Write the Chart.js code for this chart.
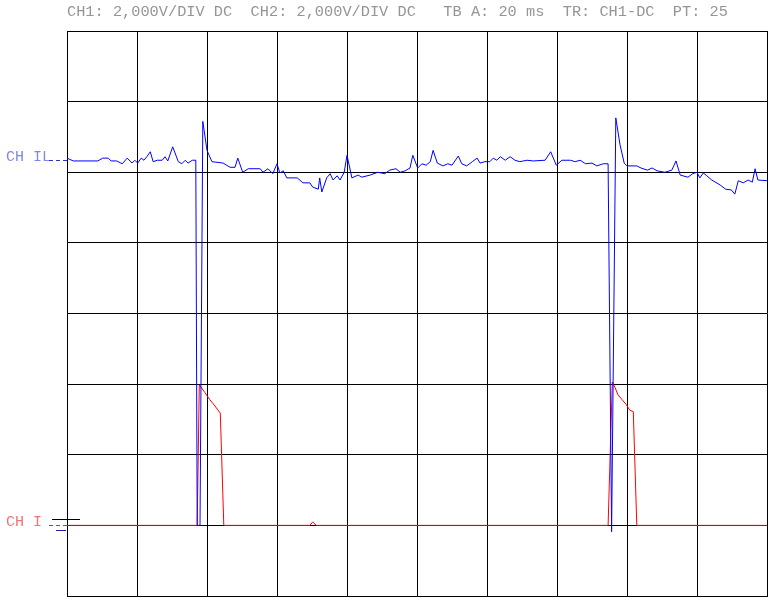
<!DOCTYPE html>
<html>
<head>
<meta charset="utf-8">
<script src="https://cdn.jsdelivr.net/npm/chart.js@4.4.1/dist/chart.umd.min.js"></script>
<style>
    html, body { margin: 0; padding: 0; background: #ffffff; }
    #wrap { position: relative; width: 777px; height: 611px; }
    #header {
        position: absolute; left: 67px; top: 3px;
        font-family: "Liberation Mono", "DejaVu Sans Mono", monospace;
        font-size: 15.3px; color: #959595; white-space: pre;
    }
    canvas { position: absolute; left: 0; top: 0; }
</style>
</head>
<body>
<div id="wrap">
    <canvas id="scope" width="777" height="611"></canvas>
    <div id="header"></div>
</div>
<script>
// ========================
// DATA (x and y in screen divisions: 10 x 8)
// ========================
const chILTime = [
    0.00, 0.09, 0.44, 0.51, 0.59, 0.63, 0.71, 0.79, 0.86, 0.93, 0.97, 1.01, 1.06, 1.10, 1.14, 1.19,
    1.23, 1.29, 1.36, 1.40, 1.44, 1.51, 1.59, 1.64, 1.69, 1.73, 1.79, 1.84, 1.86, 1.90, 1.94, 2.00,
    2.07, 2.23, 2.33, 2.40, 2.44, 2.51, 2.59, 2.76, 2.80, 2.87, 2.94, 3.00, 3.04, 3.09, 3.14, 3.29,
    3.37, 3.47, 3.51, 3.59, 3.61, 3.64, 3.71, 3.76, 3.80, 3.86, 3.90, 3.96, 4.00, 4.07, 4.16, 4.21,
    4.33, 4.44, 4.54, 4.61, 4.70, 4.76, 4.83, 4.90, 4.94, 5.01, 5.07, 5.13, 5.19, 5.23, 5.29, 5.37,
    5.44, 5.50, 5.59, 5.64, 5.71, 5.79, 5.86, 5.90, 5.97, 6.04, 6.09, 6.14, 6.19, 6.26, 6.33, 6.40,
    6.47, 6.57, 6.66, 6.83, 6.91, 6.99, 7.07, 7.19, 7.26, 7.33, 7.41, 7.50, 7.57, 7.66, 7.73, 7.78,
    7.84, 7.90, 7.96, 8.00, 8.14, 8.20, 8.29, 8.36, 8.43, 8.54, 8.64, 8.70, 8.76, 8.87, 8.94,
    9.00, 9.04, 9.09, 9.14, 9.21, 9.33, 9.41, 9.49, 9.54, 9.59, 9.66, 9.73, 9.79, 9.83, 9.87, 10.00
];
const chILLevel = [
    6.20, 6.16, 6.16, 6.20, 6.20, 6.16, 6.16, 6.12, 6.20, 6.13, 6.17, 6.13, 6.20, 6.17, 6.22, 6.29,
    6.15, 6.17, 6.17, 6.22, 6.16, 6.36, 6.15, 6.12, 6.17, 6.13, 6.17, 6.17, 1.00, 1.00, 6.72, 6.31,
    6.15, 6.13, 6.07, 6.07, 6.20, 6.00, 6.05, 6.05, 6.00, 6.05, 5.98, 6.12, 5.99, 6.02, 5.92, 5.92,
    5.85, 5.85, 5.79, 5.76, 5.92, 5.72, 5.92, 5.98, 5.89, 5.95, 5.89, 6.00, 6.24, 5.92, 5.96, 5.93,
    5.96, 6.00, 5.98, 6.03, 6.05, 6.00, 6.02, 6.06, 6.24, 6.06, 6.12, 6.10, 6.15, 6.31, 6.13, 6.09,
    6.12, 6.10, 6.23, 6.12, 6.09, 6.15, 6.20, 6.13, 6.15, 6.15, 6.20, 6.17, 6.22, 6.17, 6.22, 6.17,
    6.15, 6.17, 6.16, 6.17, 6.29, 6.10, 6.17, 6.17, 6.15, 6.17, 6.12, 6.13, 6.09, 6.12, 6.12, 0.91,
    6.77, 6.39, 6.13, 6.09, 6.09, 6.06, 6.03, 6.06, 6.02, 6.00, 6.03, 6.16, 5.96, 5.93, 5.98,
    6.00, 5.92, 5.99, 5.95, 5.89, 5.82, 5.76, 5.75, 5.69, 5.88, 5.85, 5.89, 5.86, 6.05, 5.89, 5.88
];
const chITime = [
    0.00, 1.86, 1.89, 1.97, 2.04, 2.09, 2.19, 2.24, 3.47, 3.51, 3.56,
    7.73, 7.79, 7.83, 7.87, 7.93, 7.99, 8.04, 8.09, 8.14, 10.00
];
const chILevelI = [
    1.00, 1.00, 2.99, 2.88, 2.78, 2.72, 2.59, 1.00, 1.00, 1.05, 1.00,
    1.00, 3.03, 2.95, 2.85, 2.78, 2.71, 2.63, 2.61, 1.00, 1.00
];

const channelLabels = ['CH IL', 'CH I'];
const channelMarkerLevel = [6.18, 1.00];
const headerText = 'CH1: 2,000V/DIV DC  CH2: 2,000V/DIV DC   TB A: 20 ms  TR: CH1-DC  PT: 25';

const divisionsX = 10;
const divisionsY = 8;

function zip(xs, ys) {
    return xs.map(function(x, i) { return { x: x, y: ys[i] }; });
}

// ========================
// CHANNEL LABELS + TRIGGER MARKERS
// ========================
const channelMarks = {
    id: 'channelMarks',
    afterDraw: function(chart) {
        const ctx = chart.ctx;
        const area = chart.chartArea;
        const yScale = chart.scales.y;
        const colors = ['#8585ee', '#f07575'];
        const dashColors = ['#3030d0', '#d03030'];

        ctx.save();
        ctx.font = '15px "Liberation Mono", monospace';
        ctx.textBaseline = 'middle';
        channelLabels.forEach(function(label, i) {
            const yPx = yScale.getPixelForValue(channelMarkerLevel[i]);
            ctx.fillStyle = colors[i];
            ctx.fillText(label, 6, yPx - 3);
            ctx.strokeStyle = dashColors[i];
            ctx.lineWidth = 1;
            ctx.setLineDash([4, 3]);
            ctx.beginPath();
            ctx.moveTo(area.left - 18, Math.round(yPx) + 0.5);
            ctx.lineTo(area.left, Math.round(yPx) + 0.5);
            ctx.stroke();
        });
        ctx.setLineDash([]);

        // trigger level ticks near CH I
        const yI = yScale.getPixelForValue(channelMarkerLevel[1]);
        ctx.strokeStyle = '#000000';
        ctx.beginPath();
        ctx.moveTo(area.left - 15, Math.round(yI) - 5.5);
        ctx.lineTo(area.left + 13, Math.round(yI) - 5.5);
        ctx.stroke();
        ctx.strokeStyle = '#2020a0';
        ctx.beginPath();
        ctx.moveTo(area.left - 11, Math.round(yI) + 5.5);
        ctx.lineTo(area.left - 1, Math.round(yI) + 5.5);
        ctx.stroke();
        ctx.restore();
    }
};

// ========================
// CHART
// ========================
new Chart(document.getElementById('scope'), {
    type: 'line',
    data: {
        datasets: [
            {
                label: channelLabels[0],
                data: zip(chILTime, chILLevel),
                borderColor: '#0000ff',
                borderWidth: 1,
                pointRadius: 0,
                tension: 0,
                fill: false
            },
            {
                label: channelLabels[1],
                data: zip(chITime, chILevelI),
                borderColor: '#ff0000',
                borderWidth: 1,
                pointRadius: 0,
                tension: 0,
                fill: false
            }
        ]
    },
    options: {
        responsive: false,
        animation: false,
        events: [],
        layout: { padding: { left: 67, top: 31, right: 10, bottom: 15 } },
        plugins: {
            legend: { display: false },
            tooltip: { enabled: false },
            title: { display: false }
        },
        scales: {
            x: {
                type: 'linear',
                min: 0,
                max: divisionsX,
                ticks: { display: false, stepSize: 1 },
                grid: { color: '#000000', lineWidth: 1, drawTicks: false },
                border: { color: '#000000' },
                afterFit: function(s) { s.height = 0; }
            },
            y: {
                type: 'linear',
                min: 0,
                max: divisionsY,
                ticks: { display: false, stepSize: 1 },
                grid: { color: '#000000', lineWidth: 1, drawTicks: false },
                border: { color: '#000000' },
                afterFit: function(s) { s.width = 0; }
            }
        }
    },
    plugins: [channelMarks]
});

document.getElementById('header').textContent = headerText;
</script>
</body>
</html>
